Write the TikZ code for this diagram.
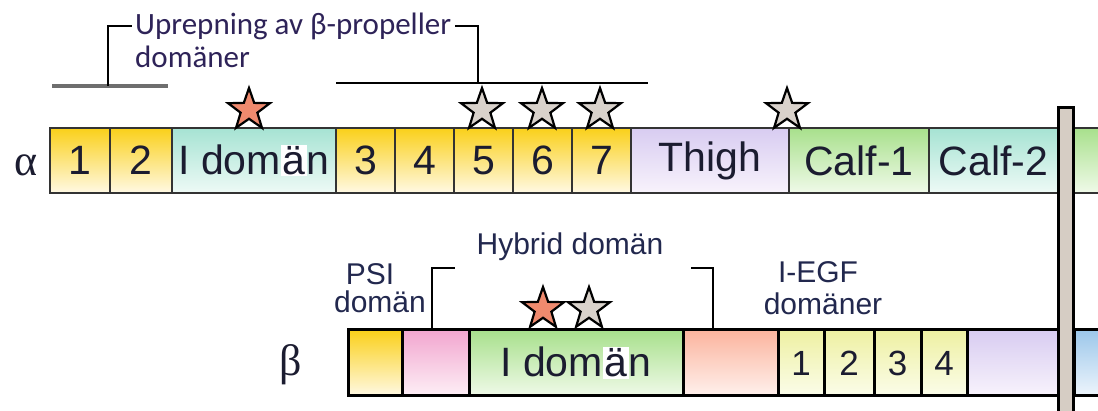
\documentclass[tikz,border=0pt]{standalone}
\usepackage{fontspec}
\setmainfont{Liberation Sans}
\newfontfamily\calfont{Carlito}
\newfontfamily\serfont{Liberation Serif}
\usetikzlibrary{shapes.geometric}

% colours of the domains (top / bottom of each gradient)
\definecolor{ink}{HTML}{1B1C30}
\definecolor{labink}{HTML}{22284E}
\definecolor{repink}{HTML}{2E2358}
\definecolor{barline}{HTML}{333333}
\definecolor{propTop}{HTML}{FAD01A}
\definecolor{propBot}{HTML}{FFF9E4}
\definecolor{tealTop}{HTML}{A6E3D3}
\definecolor{tealBot}{HTML}{EEFAF6}
\definecolor{lavTop}{HTML}{D8CCF1}
\definecolor{lavBot}{HTML}{F8F3FC}
\definecolor{grnTop}{HTML}{A8E08C}
\definecolor{grnBot}{HTML}{F0FAE9}
\definecolor{pinkTop}{HTML}{F2A6CF}
\definecolor{pinkBot}{HTML}{FDEFF6}
\definecolor{salTop}{HTML}{FBB49E}
\definecolor{salBot}{HTML}{FFF1ED}
\definecolor{egfTop}{HTML}{EEF0A2}
\definecolor{egfBot}{HTML}{FBFDEA}
\definecolor{bluTop}{HTML}{9CC7EA}
\definecolor{bluBot}{HTML}{EEF5FC}
\definecolor{membfill}{HTML}{D6CDC4}
\definecolor{starRed}{HTML}{EF8A6E}
\definecolor{starGray}{HTML}{D9D2CB}
\definecolor{bracketGray}{HTML}{6E6E6E}

\newcommand\whiteA{{\setlength\fboxsep{1.5pt}\colorbox{white}{ä}}}

\tikzset{
  seg/.style={draw=barline, line width=2pt, inner sep=0pt, text=ink,
    font=\fontsize{41}{41}\selectfont},
  aseg/.style={seg, minimum height=65pt},
  bseg/.style={seg, draw=black, line width=3pt, minimum height=66pt},
  egf/.style={bseg, top color=egfTop, bottom color=egfBot,
    font=\fontsize{35}{35}\selectfont},
  prop/.style={top color=propTop, bottom color=propBot},
  teal/.style={top color=tealTop, bottom color=tealBot},
  lav/.style={top color=lavTop, bottom color=lavBot},
  grn/.style={top color=grnTop, bottom color=grnBot},
  pinkd/.style={top color=pinkTop, bottom color=pinkBot},
  sal/.style={top color=salTop, bottom color=salBot},
  blu/.style={top color=bluTop, bottom color=bluBot},
  starmark/.style={star, star points=5, star point ratio=2.5,
    minimum size=44pt, inner sep=0pt, draw=black, line width=2.2pt},
  redstar/.style={starmark, fill=starRed},
  graystar/.style={starmark, fill=starGray},
  lab/.style={inner sep=0pt, text=labink, font=\fontsize{30}{30}\selectfont},
  replab/.style={inner sep=0pt, text=repink, font=\calfont\fontsize{31}{31}\selectfont},
  brk/.style={draw=black, line width=2.5pt},
  greek/.style={inner sep=0pt, text=ink, font=\serfont\fontsize{44}{44}\selectfont}
}

\begin{document}
\begin{tikzpicture}[x=1pt,y=-1pt]
\useasboundingbox (0,0) rectangle (1098,411);
\clip (0,0) rectangle (1098,411);

% ---------- alpha chain ----------
\node[greek, anchor=base] (alpha) at (26,176) {α};
\node[aseg, prop, minimum width=60pt]  (a1)  at (80,160.5)    {1};
\node[aseg, prop, minimum width=62pt]  (a2)  at (141,160.5)   {2};
\node[aseg, teal, minimum width=164pt] (aI)  at (254,160.5)   {I dom\whiteA n};
\node[aseg, prop, minimum width=59pt]  (a3)  at (365.5,160.5) {3};
\node[aseg, prop, minimum width=59pt]  (a4)  at (424.5,160.5) {4};
\node[aseg, prop, minimum width=59pt]  (a5)  at (483.5,160.5) {5};
\node[aseg, prop, minimum width=59pt]  (a6)  at (542.5,160.5) {6};
\node[aseg, prop, minimum width=59pt]  (a7)  at (601.5,160.5) {7};
\node[aseg, lav,  minimum width=158pt] (thigh) at (710,160.5) {Thigh};
\node[aseg, grn,  minimum width=140pt] (calfA) at (859,160.5) {Calf-1};
\node[aseg, teal, minimum width=129pt] (calfB) at (993.5,160.5) {Calf-2};
\node[aseg, grn,  minimum width=40pt]  (atail) at (1094,160.5) {};

% stars above the alpha chain
\node[redstar]  (sI)  at (249,110) {};
\node[graystar] (s5)  at (482,110) {};
\node[graystar] (s6)  at (542,110) {};
\node[graystar] (s7)  at (600,110) {};
\node[graystar] (sTC) at (787,110) {};

% beta-propeller repeats label and its brackets
\node[replab, anchor=base west] (rep1) at (135,35) {Uprepning av β-propeller};
\node[replab, anchor=base west] (rep2) at (135,68) {domäner};
\draw[draw=bracketGray, line width=4pt] (52,86) -- (168,86);
\draw[brk] (108,86) -- (108,26) -- (132,26);
\draw[brk] (455,26) -- (478,26) -- (478,83);
\draw[brk] (336,83) -- (648,83);

% ---------- beta chain ----------
\node[greek, anchor=base] (beta) at (291,376) {β};
\node[bseg, prop,  minimum width=54pt]  (bpsi)  at (375,363)   {};
\node[bseg, pinkd, minimum width=67pt]  (bpink) at (435.5,363) {};
\node[bseg, grn,   minimum width=214pt] (bI)    at (576,363)   {I dom\whiteA n};
\node[bseg, sal,   minimum width=95pt]  (bsal)  at (730.5,363) {};
\node[egf, minimum width=46pt] (e1) at (801,363)   {1};
\node[egf, minimum width=50pt] (e2) at (849,363)   {2};
\node[egf, minimum width=47pt] (e3) at (897.5,363) {3};
\node[egf, minimum width=46pt] (e4) at (944,363)   {4};
\node[bseg, lav, minimum width=91pt] (bpur)  at (1012.5,363) {};
\node[bseg, blu, minimum width=40pt] (btail) at (1094,363)   {};

% stars above the beta I domain
\node[redstar]  (bs1) at (543,309) {};
\node[graystar] (bs2) at (589,309) {};

% labels of the beta chain
\node[lab, anchor=base] (psi1) at (370,285) {PSI};
\node[lab, anchor=base] (psi2) at (380,313) {domän};
\node[lab, anchor=base] (hyb)  at (570,255) {Hybrid domän};
\node[lab, anchor=base] (egf1) at (818,283) {I-EGF};
\node[lab, anchor=base] (egf2) at (823,315) {domäner};

% hybrid domain bracket
\coordinate (hybR) at (713,329);
\draw[brk] (bpink.north -| 432,0) -- (432,268) -- (455,268);
\draw[brk] (691,268) -- (713,268) -- (hybR);

% ---------- membrane ----------
\node[draw=black, line width=3pt, fill=membfill, inner sep=0pt,
      minimum width=15pt, minimum height=330pt] (memb) at (1066,273) {};
\end{tikzpicture}
\end{document}
